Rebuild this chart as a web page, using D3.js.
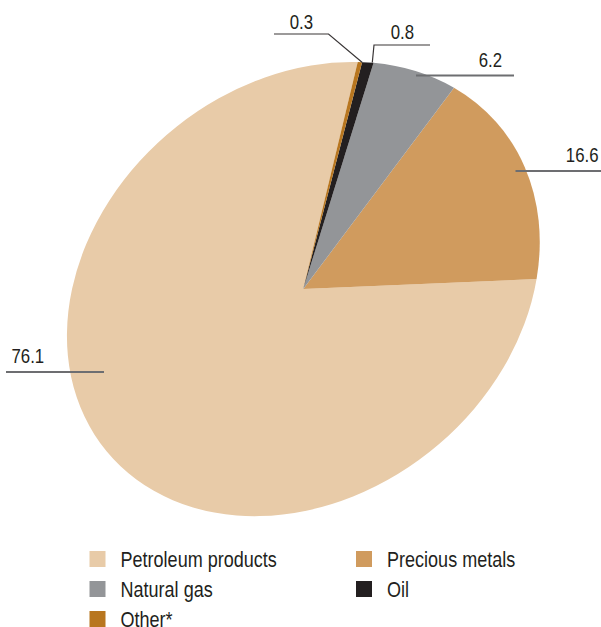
<!DOCTYPE html>
<html><head><meta charset="utf-8">
<script src="https://cdn.jsdelivr.net/npm/d3@7"></script>
<style>
html,body{margin:0;padding:0;background:#fff;}
svg{display:block;}
text{font-family:"Liberation Sans",Arial,sans-serif;fill:#231f20;}
</style></head>
<body>
<svg id="chart" width="601" height="627"></svg>
<script>
// ---- data ----
const categories = ["Petroleum products", "Precious metals", "Natural gas", "Oil", "Other*"];
const values = [76.1, 16.6, 6.2, 0.8, 0.3];
const valueLabels = ["76.1", "16.6", "6.2", "0.8", "0.3"];
const colors = ["#e8cba8", "#d09b5e", "#939598", "#231f20", "#b8761f"];
const title = "(percent)";

// ---- layout ----
const W = 601, H = 627;
const cx = 303.25, cy = 289;
const semiMajor = 255, semiMinor = 206, tilt = -39.5;
const startDeg = 47;
const narrow = 0.82; // horizontal condensing of the text face

const labelLayout = [
  {tx: 11.5, ty: 363, anchor: "start", x1: 6, y1: 372, x2: 104, y2: 372, bend: null, w: 2},
  {tx: 598.5, ty: 162, anchor: "end", x1: 515.5, y1: 171, x2: 601, y2: 171, bend: null, w: 2},
  {tx: 502, ty: 67, anchor: "end", x1: 416, y1: 75.5, x2: 514, y2: 75.5, bend: null, w: 2},
  {tx: 414, ty: 38.5, anchor: "end", x1: 430, y1: 45, x2: 374, y2: 45, bend: [372.3, 62.5], w: 1.2},
  {tx: 313, ty: 28.5, anchor: "end", x1: 274, y1: 34, x2: 328.5, y2: 34, bend: [362.3, 62.5], w: 1.2}
];

const svg = d3.select("#chart");

function narrowText(parent, x, y, str, size, anchor, weight) {
  return parent.append("g")
    .attr("transform", `translate(${x},${y}) scale(${narrow},1)`)
    .append("text").attr("x", 0).attr("y", 0)
    .attr("text-anchor", anchor || "start")
    .style("font-size", size + "px")
    .style("font-weight", weight || "normal")
    .text(str);
}

// title (clipped at the top edge, as in the reference)
narrowText(svg, cx, -4, title, 21, "middle", "bold");

const pie = d3.pie().sort(null).value(d => d)
  .startAngle(startDeg * Math.PI / 180)
  .endAngle((startDeg - 360) * Math.PI / 180);
const arcs = pie(values);
const arc = d3.arc().innerRadius(0).outerRadius(1);

const g = svg.append("g")
  .attr("transform", `translate(${cx},${cy}) rotate(${tilt}) scale(${semiMajor},${semiMinor})`);
g.selectAll("path").data(arcs).join("path")
  .attr("d", arc)
  .attr("fill", (d, i) => colors[i]);

// leader lines and labels
const lab = svg.append("g");
labelLayout.forEach((L, i) => {
  if (L.bend) {
    lab.append("polyline")
      .attr("points", `${L.x1},${L.y1} ${L.x2},${L.y2} ${L.bend[0]},${L.bend[1]}`)
      .attr("fill", "none").attr("stroke", "#3a3637").attr("stroke-width", L.w);
  } else {
    lab.append("line").attr("x1", L.x1).attr("y1", L.y1).attr("x2", L.x2).attr("y2", L.y2)
      .attr("stroke", "#6d6e71").attr("stroke-width", L.w);
  }
  narrowText(lab, L.tx, L.ty, valueLabels[i], 20.5, L.anchor);
});

// legend
const legendCols = [89.5, 356];
const legendRow0 = 551, legendRowStep = 30, sw = 16;
const leg = svg.append("g");
categories.forEach((c, i) => {
  const col = i % 2, row = Math.floor(i / 2);
  const x = legendCols[col], y = legendRow0 + row * legendRowStep;
  leg.append("rect").attr("x", x).attr("y", y).attr("width", sw).attr("height", sw).attr("fill", colors[i]);
  narrowText(leg, x + 31, y + 15.7, c, 22, "start");
});
</script>
</body></html>
